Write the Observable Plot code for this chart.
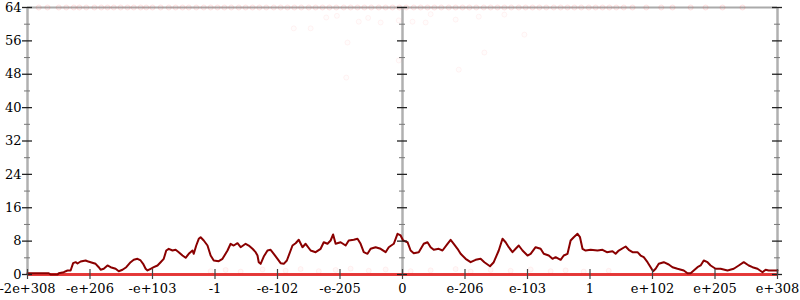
<!DOCTYPE html>
<html>
<head>
<meta charset="utf-8">
<script src="https://cdn.jsdelivr.net/npm/d3@7"></script>
<script src="https://cdn.jsdelivr.net/npm/@observablehq/plot@0.6"></script>
<style>
  html, body { margin: 0; padding: 0; background: #fff; }
  #chart { width: 800px; height: 300px; }
</style>
</head>
<body>
<div id="chart"></div>
<script>
// x axis: ordinal position of doubles, tick index -6..6
const xTicks = [-6, -5, -4, -3, -2, -1, 0, 1, 2, 3, 4, 5, 6];
const xLabels = ["-2e+308", "-e+206", "-e+103", "-1", "-e-102", "-e-205", "0", "e-206", "e-103", "1", "e+102", "e+205", "e+308"];
const yMajor = [0, 8, 16, 24, 32, 40, 48, 56, 64];
const yMinor = [4, 12, 20, 28, 36, 44, 52, 60];
const axisPositions = [-6, 0, 6];

// averaged error line
const lineX = [-6.00,-5.66,-5.63,-5.52,-5.50,-5.42,-5.36,-5.31,-5.27,-5.23,-5.20,-5.15,-5.07,-5.04,-4.99,-4.91,-4.86,-4.83,-4.78,-4.72,-4.67,-4.59,-4.54,-4.48,-4.42,-4.35,-4.30,-4.24,-4.19,-4.15,-4.11,-4.08,-4.03,-3.98,-3.92,-3.87,-3.82,-3.78,-3.74,-3.68,-3.63,-3.58,-3.52,-3.47,-3.42,-3.36,-3.34,-3.30,-3.26,-3.23,-3.18,-3.12,-3.07,-3.02,-2.94,-2.88,-2.80,-2.75,-2.70,-2.64,-2.59,-2.51,-2.46,-2.40,-2.35,-2.32,-2.30,-2.27,-2.22,-2.16,-2.11,-2.06,-2.00,-1.95,-1.90,-1.85,-1.76,-1.71,-1.66,-1.60,-1.55,-1.47,-1.39,-1.31,-1.26,-1.20,-1.15,-1.11,-1.07,-0.99,-0.91,-0.86,-0.78,-0.72,-0.67,-0.62,-0.56,-0.51,-0.43,-0.35,-0.27,-0.22,-0.14,-0.08,-0.03,0.01,0.08,0.13,0.18,0.26,0.34,0.40,0.45,0.50,0.58,0.64,0.72,0.77,0.82,0.88,0.93,1.01,1.09,1.17,1.25,1.31,1.40,1.46,1.54,1.60,1.65,1.70,1.76,1.81,1.86,1.92,2.00,2.05,2.13,2.21,2.26,2.34,2.40,2.45,2.53,2.58,2.64,2.69,2.74,2.80,2.84,2.88,2.93,3.01,3.12,3.20,3.27,3.36,3.41,3.46,3.57,3.62,3.68,3.76,3.81,3.86,3.92,3.97,4.01,4.05,4.10,4.18,4.26,4.32,4.40,4.50,4.56,4.61,4.66,4.72,4.77,4.82,4.88,4.93,5.01,5.09,5.20,5.30,5.38,5.46,5.54,5.60,5.68,5.76,5.81,5.86,6.00];
const lineY = [0.31,0.31,0,0,0.31,0.55,0.96,0.96,2.71,2.95,2.64,3.12,3.36,3.19,2.95,2.56,1.75,1.13,1.37,2.16,1.75,1.37,0.79,1.13,1.75,2.95,3.52,3.76,3.36,2.56,1.37,0.96,1.37,1.75,2.16,2.95,3.76,5.75,6.16,5.75,5.92,5.35,4.55,4.00,4.96,5.75,4.96,6.95,8.56,8.94,8.15,6.95,4.55,3.36,3.19,3.76,5.75,7.36,6.95,7.50,6.54,7.36,6.95,6.16,5.35,4.55,2.95,2.56,4.30,5.75,5.92,4.96,3.76,2.71,2.56,3.36,6.95,7.50,8.32,6.54,7.36,5.75,5.35,6.16,7.74,7.36,8.15,9.59,7.36,7.74,6.95,8.15,8.32,8.56,7.36,5.35,4.96,6.16,6.54,6.16,5.35,6.54,7.36,9.76,9.35,8.15,7.74,5.75,5.11,5.35,7.36,7.74,6.54,5.92,6.16,5.75,7.36,8.32,7.36,6.16,4.96,3.76,2.95,3.52,3.76,2.95,1.99,2.95,5.75,8.56,7.74,6.54,5.35,6.16,6.95,5.75,4.55,4.96,6.54,6.16,4.96,4.55,3.76,4.15,3.52,4.55,4.96,8.15,8.94,9.76,8.94,6.16,5.75,5.92,5.75,5.92,5.35,5.58,4.96,5.75,6.71,5.92,5.35,5.35,4.55,4.15,2.95,1.75,0.79,1.37,2.56,2.95,2.40,1.75,1.37,0.96,0.31,0.31,0.96,1.75,2.16,3.36,2.95,2.16,1.37,1.37,0.96,1.37,2.16,2.95,2.16,1.75,1.37,0.55,1.13,0.96,0.96];

// individual sample points (faint)
const topX = [-5.82,-5.68,-5.50,-5.38,-5.26,-5.17,-5.06,-4.93,-4.82,-4.72,-4.62,-4.51,-4.40,-4.30,-4.19,-4.10,-4.00,-3.87,-3.74,-3.63,-3.52,-3.42,-3.30,-3.18,-3.07,-2.96,-2.85,-2.74,-2.62,-2.51,-2.40,-2.29,-2.18,-2.06,-1.95,-1.84,-1.73,-1.62,-1.50,-1.39,-1.28,-1.17,-1.06,-0.94,-0.83,-0.72,-0.61,-0.50,-0.38,-0.27,-0.16,-0.05,0.06,0.18,0.29,0.40,0.51,0.62,0.74,0.85,0.96,1.07,1.18,1.30,1.41,1.52,1.63,1.74,1.86,1.97,2.08,2.19,2.30,2.42,2.53,2.64,2.75,2.86,2.98,3.09,3.20,3.31,3.42,3.54,3.68,3.90,4.14,4.32,4.61,4.85,5.12,5.44];
const scatterX = [-1.47,-1.22,-0.70,-0.35,-0.06,0.16,0.37,0.85,1.22,-0.88,1.31,-0.06,-0.90,0.90,1.63,1.95,-1.74,-1.05,-0.55,0.45];
const scatterY = [59.0,61.6,60.6,60.4,60.9,60.6,60.4,61.1,61.8,55.6,53.2,51.3,47.2,49.1,62.3,57.5,59.0,62.0,61.5,62.4];
const lowX = [-3.07,-2.83,-2.59,-2.24,-1.87,-1.63,-1.34,-1.07,-0.83,-0.54,-0.27,0.13,0.45,0.85,1.09,1.41,1.73,2.05,2.37,2.61,2.90,3.30];
const lowY = [0.8,1.1,0.7,1.2,0.9,1.3,0.8,1.1,1.4,0.9,1.2,0.8,1.0,1.3,0.7,1.1,0.9,1.2,0.8,1.0,0.7,0.9];

const topPts = topX.map(x => ({x, y: 64}));
const scatterPts = scatterX.map((x, i) => ({x, y: scatterY[i]}));
const lowPts = lowX.map((x, i) => ({x, y: lowY[i]}));
const line = lineX.map((x, i) => ({x, y: lineY[i]}));
const majorTicks = axisPositions.flatMap(a => yMajor.map(v => ({a, v})));
const minorTicks = axisPositions.flatMap(a => yMinor.map(v => ({a, v})));

const dotStyle = {r: 2.5, fill: "#ff2020", fillOpacity: 0.03, stroke: "#ff3030", strokeOpacity: 0.12, strokeWidth: 1};

const chart = Plot.plot({
  width: 800,
  height: 300,
  marginLeft: 27,
  marginRight: 23,
  marginTop: 7,
  marginBottom: 26,
  style: {fontFamily: "DejaVu Serif", fontSize: "13px", background: "#fff", overflow: "visible", color: "#000"},
  x: {domain: [-6, 6], ticks: xTicks, tickFormat: d => xLabels[xTicks.indexOf(d)], tickSize: 0, tickPadding: 9, label: null},
  y: {domain: [0, 64], ticks: yMajor, tickSize: 0, tickPadding: 6, label: null},
  marks: [
    Plot.ruleY([64], {stroke: "#aaa", strokeWidth: 2}),
    Plot.ruleY([0], {stroke: "#aaa", strokeWidth: 2}),
    Plot.ruleX(axisPositions, {stroke: "#b0b0b0", strokeWidth: 2.5}),
    Plot.dot(topPts, {x: "x", y: "y", ...dotStyle}),
    Plot.dot(scatterPts, {x: "x", y: "y", ...dotStyle, fillOpacity: 0.015, strokeOpacity: 0.05}),
    Plot.ruleY([0], {stroke: "#e82a2a", strokeWidth: 3, strokeOpacity: 0.9}),
    Plot.dot(lowPts, {x: "x", y: "y", ...dotStyle, strokeOpacity: 0.06}),
    Plot.line(line, {x: "x", y: "y", stroke: "#8a0000", strokeWidth: 2}),
    Plot.ruleY(minorTicks, {y: "v", x1: "a", x2: "a", insetLeft: -3, insetRight: -3, stroke: "#777", strokeWidth: 1}),
    Plot.ruleY(majorTicks, {y: "v", x1: "a", x2: "a", insetLeft: -5, insetRight: -5, stroke: "#222", strokeWidth: 1.3}),
    Plot.ruleX(xTicks, {x: d => d, y1: 0, y2: 0, insetTop: -5, insetBottom: -5, stroke: "#444", strokeWidth: 1.2})
  ]
});
document.getElementById("chart").appendChild(chart);
</script>
</body>
</html>
